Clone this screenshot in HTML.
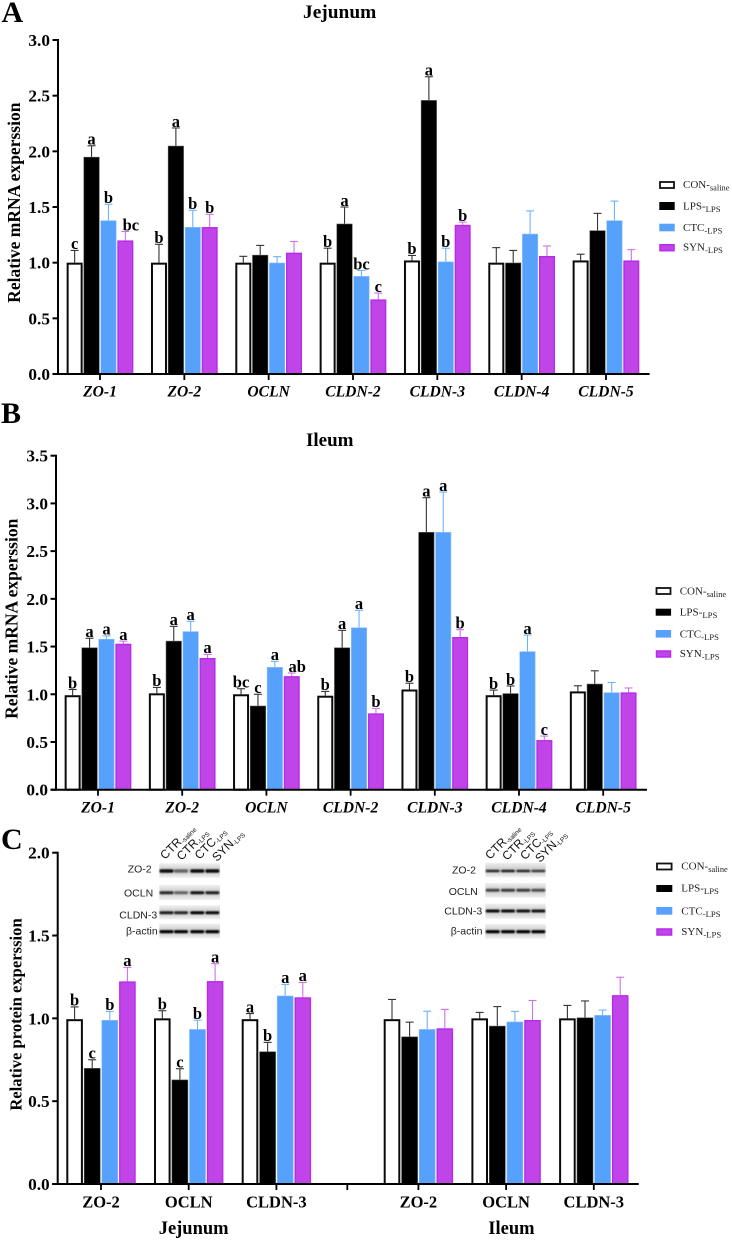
<!DOCTYPE html>
<html lang="en">
<head>
<meta charset="utf-8">
<title>Relative mRNA and protein expression in jejunum and ileum</title>
<style>
html,body{margin:0;padding:0;background:#fff;}
svg{display:block;filter:blur(0.3px);}
text{font-family:"Liberation Serif",serif;fill:#000;}
.sans{font-family:"Liberation Sans",sans-serif;}
.b{font-weight:bold;}
.ytick{font-weight:bold;font-size:17.3px;text-anchor:end;}
.xtick{font-weight:bold;font-style:italic;font-size:15.6px;text-anchor:middle;}
.xtick-c{font-weight:bold;font-size:16.5px;text-anchor:middle;}
.sig{font-weight:bold;font-size:16.5px;text-anchor:middle;}
.leg{font-size:11px;fill:#222;}
.blot{font-size:10.5px;fill:#222;}
.lane{font-size:12px;fill:#111;}
</style>
</head>
<body>
<svg id="figure" xmlns="http://www.w3.org/2000/svg" width="732" height="1240" viewBox="0 0 732 1240">
  <defs>
    <filter id="soft" x="-30%" y="-100%" width="160%" height="300%"><feGaussianBlur stdDeviation="0.8"></feGaussianBlur></filter>
    <linearGradient id="stripLight" x1="0" y1="0" x2="0" y2="1">
      <stop offset="0" stop-color="#f0f0f0"></stop><stop offset="0.5" stop-color="#c8c8c8"></stop><stop offset="1" stop-color="#f0f0f0"></stop>
    </linearGradient>
  </defs>
  <rect width="732" height="1240" fill="#fff"></rect>

  <text class="b" x="1.5" y="22" font-size="30">A</text>
  <text class="b" x="1" y="423" font-size="30">B</text>
  <text class="b" x="1" y="849" font-size="30">C</text>

  <text class="b" x="303" y="18" font-size="19.4">Jejunum</text>
  <text class="b" x="306" y="446" font-size="19">Ileum</text>
  <text class="b" x="158.7" y="1234" font-size="18.5">Jejunum</text>
  <text class="b" x="488.3" y="1234" font-size="18.5">Ileum</text>

  <text class="b" font-size="17.5" text-anchor="middle" transform="translate(20 202.7) rotate(-90)">Relative mRNA experssion</text>
  <text class="b" font-size="17.5" text-anchor="middle" transform="translate(17.3 618.8) rotate(-90)">Relative mRNA experssion</text>
  <text class="b" font-size="16.6" text-anchor="middle" transform="translate(21.7 1014.5) rotate(-90)">Relative protein experssion</text>

  <g>
    <rect x="660" y="182" width="14" height="6" fill="#fff" stroke="#111" stroke-width="1.8"></rect>
    <text class="leg" x="683" y="188">CON-<tspan dy="2.5" font-size="8.4">saline</tspan></text>
    <rect x="659.3" y="202" width="15.4" height="8" fill="#000"></rect>
    <text class="leg" x="683" y="209.3">LPS-<tspan dy="2.5" font-size="8.7">LPS</tspan></text>
    <rect x="659.3" y="223.7" width="15.4" height="7.6" fill="#56a1fb"></rect>
    <text class="leg" x="683" y="231">CTC<tspan dy="2.5" font-size="8.7">-LPS</tspan></text>
    <rect x="660" y="244.7" width="14" height="6" fill="#c044e8" stroke="#b52be8" stroke-width="1.5"></rect>
    <text class="leg" x="683" y="250.7">SYN<tspan dy="2.5" font-size="8.7">-LPS</tspan></text>
  </g>

  <g>
    <rect x="656.5" y="588" width="14" height="6" fill="#fff" stroke="#111" stroke-width="1.8"></rect>
    <text class="leg" x="679.7" y="594.3">CON-<tspan dy="2.5" font-size="8.4">saline</tspan></text>
    <rect x="655.7" y="608.7" width="15.4" height="7" fill="#000"></rect>
    <text class="leg" x="679.7" y="615.7">LPS-<tspan dy="2.5" font-size="8.7">LPS</tspan></text>
    <rect x="655.7" y="630" width="15.4" height="7.6" fill="#56a1fb"></rect>
    <text class="leg" x="679.7" y="637.3">CTC<tspan dy="2.5" font-size="8.7">-LPS</tspan></text>
    <rect x="656.5" y="651" width="14" height="6" fill="#c044e8" stroke="#b52be8" stroke-width="1.5"></rect>
    <text class="leg" x="679.7" y="657">SYN<tspan dy="2.5" font-size="8.7">-LPS</tspan></text>
  </g>

  <g>
    <rect x="657" y="863.5" width="14.6" height="6" fill="#fff" stroke="#111" stroke-width="1.8"></rect>
    <text class="leg" x="681.3" y="869.3">CON-<tspan dy="2.5" font-size="8.4">saline</tspan></text>
    <rect x="656.3" y="885" width="16" height="7" fill="#000"></rect>
    <text class="leg" x="681.3" y="891.7">LPS-<tspan dy="2.5" font-size="8.7">LPS</tspan></text>
    <rect x="656.3" y="907" width="16" height="7.7" fill="#56a1fb"></rect>
    <text class="leg" x="681.3" y="914.3">CTC<tspan dy="2.5" font-size="8.7">-LPS</tspan></text>
    <rect x="657" y="929" width="14.6" height="6" fill="#c044e8" stroke="#b52be8" stroke-width="1.5"></rect>
    <text class="leg" x="681.3" y="935">SYN<tspan dy="2.5" font-size="8.7">-LPS</tspan></text>
  </g>

  <g>
    <text class="sans blot" x="127.7" y="872.7">ZO-2</text>
    <text class="sans blot" x="124" y="896.7">OCLN</text>
    <text class="sans blot" x="119.3" y="918.3">CLDN-3</text>
    <text class="sans blot" x="126" y="934.3">β-actin</text>
    <text class="sans lane" transform="translate(165 860) rotate(-45)">CTR<tspan dy="1.5" font-size="6.5">-saline</tspan></text>
    <text class="sans lane" transform="translate(181.5 861) rotate(-45)">CTR<tspan dy="1.5" font-size="6.5">-LPS</tspan></text>
    <text class="sans lane" transform="translate(199.5 860) rotate(-45)">CTC<tspan dy="1.5" font-size="6.5">-LPS</tspan></text>
    <text class="sans lane" transform="translate(217 862) rotate(-45)">SYN<tspan dy="1.5" font-size="6.5">-LPS</tspan></text>
  </g>

  <g>
    <text class="sans blot" x="452" y="873.3">ZO-2</text>
    <text class="sans blot" x="448.7" y="895">OCLN</text>
    <text class="sans blot" x="444.3" y="914.7">CLDN-3</text>
    <text class="sans blot" x="450.7" y="934.3">β-actin</text>
    <text class="sans lane" transform="translate(490 860) rotate(-45)">CTR<tspan dy="1.5" font-size="6.5">-saline</tspan></text>
    <text class="sans lane" transform="translate(507 861) rotate(-45)">CTR<tspan dy="1.5" font-size="6.5">-LPS</tspan></text>
    <text class="sans lane" transform="translate(525 860.5) rotate(-45)">CTC<tspan dy="1.5" font-size="6.5">-LPS</tspan></text>
    <text class="sans lane" transform="translate(540 863) rotate(-45)">SYN<tspan dy="1.5" font-size="6.5">-LPS</tspan></text>
  </g>
</svg>

<script>
// ---------- Panel A: Jejunum mRNA ----------
const geneCategories = ['ZO-1','ZO-2','OCLN','CLDN-2','CLDN-3','CLDN-4','CLDN-5'];
const ticksA = ['0.0','0.5','1.0','1.5','2.0','2.5','3.0'];
const conA = [1.00,1.00,1.00,1.00,1.02,1.00,1.02];
const lpsA = [1.95,2.05,1.07,1.35,2.46,1.00,1.29];
const ctcA = [1.38,1.32,1.00,0.88,1.01,1.26,1.38];
const synA = [1.20,1.32,1.09,0.67,1.34,1.06,1.02];
const conErrA = [0.11,0.165,0.057,0.13,0.045,0.135,0.056];
const lpsErrA = [0.10,0.16,0.085,0.15,0.21,0.11,0.153];
const ctcErrA = [0.145,0.15,0.054,0.05,0.12,0.205,0.173];
const synErrA = [0.08,0.115,0.10,0.057,0.025,0.09,0.097];
const conSigA = ['c','b','','b','b','',''];
const lpsSigA = ['a','a','','a','a','',''];
const ctcSigA = ['b','b','','bc','b','',''];
const synSigA = ['bc','b','','c','b','',''];

// ---------- Panel B: Ileum mRNA ----------
const ticksB = ['0.0','0.5','1.0','1.5','2.0','2.5','3.0','3.5'];
const conB = [0.99,1.01,1.00,0.985,1.05,0.99,1.03];
const lpsB = [1.49,1.56,0.88,1.49,2.70,1.01,1.11];
const ctcB = [1.58,1.66,1.285,1.70,2.70,1.45,1.02];
const synB = [1.53,1.38,1.19,0.80,1.60,0.52,1.02];
const conErrB = [0.06,0.062,0.058,0.045,0.066,0.054,0.059];
const lpsErrB = [0.097,0.152,0.12,0.18,0.36,0.077,0.136];
const ctcErrB = [0.032,0.105,0.06,0.18,0.42,0.171,0.104];
const synErrB = [0.027,0.038,0.033,0.052,0.077,0.042,0.046];
const conSigB = ['b','b','bc','b','b','b',''];
const lpsSigB = ['a','a','c','a','a','b',''];
const ctcSigB = ['a','a','a','a','a','a',''];
const synSigB = ['a','a','ab','b','b','c',''];

// ---------- Panel C: protein ----------
const proteinCategories = ['ZO-2','OCLN','CLDN-3','ZO-2','OCLN','CLDN-3'];
const ticksC = ['0.0','0.5','1.0','1.5','2.0'];
const conC = [0.995,1.00,0.995,0.995,1.00,1.00];
const lpsC = [0.70,0.63,0.80,0.89,0.955,1.005];
const ctcC = [0.99,0.935,1.137,0.935,0.98,1.02];
const synC = [1.223,1.225,1.127,0.94,0.99,1.14];
const conErrC = [0.074,0.046,0.034,0.119,0.036,0.078];
const lpsErrC = [0.05,0.066,0.055,0.087,0.116,0.10];
const ctcErrC = [0.052,0.054,0.068,0.108,0.062,0.03];
const synErrC = [0.085,0.105,0.09,0.114,0.118,0.108];
const conSigC = ['b','b','a','','',''];
const lpsSigC = ['c','c','b','','',''];
const ctcSigC = ['b','b','a','','',''];
const synSigC = ['a','a','a','','',''];

// ---------- Blot band darkness (0-1) per lane ----------
const jejunumZo2Bands = [0.95,0.5,0.95,0.95];
const jejunumOclnBands = [0.8,0.5,0.9,0.85];
const jejunumCldnBands = [0.85,0.8,1,0.95];
const jejunumActinBands = [1,1,1,1];
const ileumZo2Bands = [0.8,0.85,0.8,0.7];
const ileumOclnBands = [0.65,0.7,0.7,0.6];
const ileumCldnBands = [0.95,0.95,0.9,0.9];
const ileumActinBands = [1,1,1,1];

const NS = 'http://www.w3.org/2000/svg';
const root = document.getElementById('figure');
function mk(tag, attrs, parent, txt) {
  const el = document.createElementNS(NS, tag);
  for (const k in attrs) el.setAttribute(k, attrs[k]);
  if (txt !== undefined) el.textContent = txt;
  parent.appendChild(el);
  return el;
}

const seriesStyles = [
  {key:'con', fill:'#fff', stroke:'#0a0a0a', sw:2, err:'#333'},
  {key:'lps', fill:'#000', stroke:'#555', sw:0.6, err:'#333'},
  {key:'ctc', fill:'#56a1fb', stroke:'#8cc0fc', sw:0.6, err:'#6cb2ff'},
  {key:'syn', fill:'#c044e8', stroke:'#b52be8', sw:1.4, err:'#d070ee'}
];

function drawPanel(p) {
  const g = mk('g', {}, root);
  
  
  const yOf = v => p.y0 - v * p.k;
  const n = p.categories.length;
  const top = yOf((p.ticks.length - 1) * 0.5);

  // bars, error bars, significance letters
  p.series.forEach((s, si) => {
    const st = seriesStyles[si];
    for (let i = 0; i < n; i++) {
      const cx = p.xOf(i) + (si - 1.5) * p.pitch;
      const yTop = yOf(s.values[i]);
      const yErr = yOf(s.values[i] + s.errors[i]);
      const line = mk('line', {x1:cx, x2:cx, y1:yTop, y2:yErr, stroke:st.err, 'stroke-width':1.1}, g);
      
      
      const cap = mk('line', {x1:cx-4, x2:cx+4, y1:yErr, y2:yErr, stroke:st.err, 'stroke-width':1.1}, g);
      
      
      const inset = st.sw / 2;
      const bar = mk('rect', {x:cx - p.barW/2 + inset, y:yTop + inset, width:p.barW - st.sw, height:Math.max(0, p.y0 - yTop - inset), fill:st.fill, stroke:st.stroke, 'stroke-width':st.sw}, g);
      
      
      const sig = s.sig[i];
      if (sig) {
        const nudge = (si === 3 && sig.length === 2) ? 5.5 : 0;
        const t = mk('text', {class:'sig', x:cx + nudge, y:yErr - 1.2}, g, sig);
        
        
      }
    }
  });

  // axes
  const yAxis = mk('line', {x1:p.x0, x2:p.x0, y1:top - 1, y2:p.y0 + 1, stroke:'#000', 'stroke-width':2}, g);
  
  
  const xAxis = mk('line', {x1:p.x0 - 5.5, x2:p.xEnd, y1:p.y0, y2:p.y0, stroke:'#000', 'stroke-width':2}, g);
  
  

  p.ticks.forEach((lab, i) => {
    const y = yOf(i * 0.5);
    const tick = mk('line', {x1:p.x0 - 5.5, x2:p.x0, y1:y, y2:y, stroke:'#000', 'stroke-width':2}, g);
    
    
    const t = mk('text', {class:'ytick', x:p.x0 - 8, y:y + 6}, g, lab);
    
    
  });

  p.categories.forEach((lab, i) => {
    const x = p.xOf(i);
    const tick = mk('line', {x1:x, x2:x, y1:p.y0, y2:p.y0 + 6, stroke:'#000', 'stroke-width':1.8}, g);
    
    
    const t = mk('text', {class:p.labelClass, x:x, y:p.labelY}, g, lab);
    
    
  });

  if (p.gapTick) {
    const tick = mk('line', {x1:p.gapTick, x2:p.gapTick, y1:p.y0, y2:p.y0 + 6, stroke:'#000', 'stroke-width':1.8}, g);
    
    
  }
}

drawPanel({
  name:'panel-a-jejunum-chart', categories:geneCategories, ticks:ticksA,
  x0:58, xEnd:649.6, y0:374, k:111.33, pitch:16.9, barW:16, labelY:396.5, labelClass:'xtick',
  xOf:i => 100 + i * 84.33,
  series:[
    {values:conA, errors:conErrA, sig:conSigA},
    {values:lpsA, errors:lpsErrA, sig:lpsSigA},
    {values:ctcA, errors:ctcErrA, sig:ctcSigA},
    {values:synA, errors:synErrA, sig:synSigA}
  ]
});

drawPanel({
  name:'panel-b-ileum-chart', categories:geneCategories, ticks:ticksB,
  x0:56, xEnd:647, y0:789.7, k:95.43, pitch:16.9, barW:16, labelY:812.3, labelClass:'xtick',
  xOf:i => 98 + i * 84.2,
  series:[
    {values:conB, errors:conErrB, sig:conSigB},
    {values:lpsB, errors:lpsErrB, sig:lpsSigB},
    {values:ctcB, errors:ctcErrB, sig:ctcSigB},
    {values:synB, errors:synErrB, sig:synSigB}
  ]
});

drawPanel({
  name:'panel-c-protein-chart', categories:proteinCategories, ticks:ticksC,
  x0:57.7, xEnd:638.7, y0:1184, k:165.65, pitch:17.6, barW:16.6, labelY:1207.3, labelClass:'xtick-c',
  gapTick:347.3,
  xOf:i => 101 + i * 87.7 + (i >= 3 ? 54.3 : 0),
  series:[
    {values:conC, errors:conErrC, sig:conSigC},
    {values:lpsC, errors:lpsErrC, sig:lpsSigC},
    {values:ctcC, errors:ctcErrC, sig:ctcSigC},
    {values:synC, errors:synErrC, sig:synSigC}
  ]
});

function drawBlot(b) {
  const g = mk('g', {}, root);
  
  
  b.rows.forEach(r => {
    const strip = mk('rect', {x:b.x, y:r.y, width:b.w, height:r.h, fill:'url(#stripLight)'}, g);
    
    
    r.bands.forEach((d, i) => {
      const band = mk('rect', {x:b.lanes[i] - 7, y:r.band - r.t/2, width:14, height:r.t, rx:1.5, fill:'#000', opacity:d, filter:'url(#soft)'}, g);
      
      
    });
  });
}

drawBlot({
  name:'jejunum-western-blot', x:159.3, w:60.7, lanes:[166.5,181,197.3,212.3],
  rows:[
    {y:863.3, h:14.4, band:871, t:3.6, bands:jejunumZo2Bands},
    {y:885, h:15, band:892.7, t:3, bands:jejunumOclnBands},
    {y:905.3, h:14, band:912.7, t:3, bands:jejunumCldnBands},
    {y:923.7, h:14.6, band:931.7, t:3.2, bands:jejunumActinBands}
  ]
});

drawBlot({
  name:'ileum-western-blot', x:485.3, w:60.4, lanes:[492.7,508,523.3,538.3],
  rows:[
    {y:862.7, h:14.6, band:871, t:2.6, bands:ileumZo2Bands},
    {y:883, h:14.7, band:890.3, t:3, bands:ileumOclnBands},
    {y:903.7, h:15, band:911, t:3, bands:ileumCldnBands},
    {y:924, h:14.7, band:931.7, t:3.2, bands:ileumActinBands}
  ]
});
</script>
</body>
</html>
